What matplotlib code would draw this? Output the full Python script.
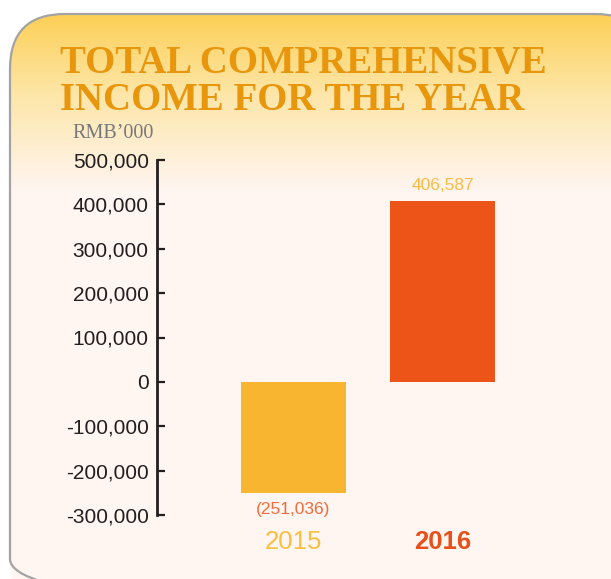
import numpy as np
import matplotlib
matplotlib.use("Agg")
from matplotlib import pyplot as plt
from matplotlib.patches import FancyBboxPatch
from matplotlib.colors import LinearSegmentedColormap

# data
years = ["2015", "2016"]
values = [-251036, 406587]
value_labels = ["(251,036)", "406,587"]
yticks = [-300000, -200000, -100000, 0, 100000, 200000, 300000, 400000, 500000]
ytick_labels = ["-300,000", "-200,000", "-100,000", "0", "100,000",
                "200,000", "300,000", "400,000", "500,000"]

W, H = 611, 579
fig = plt.figure(figsize=(W / 100, H / 100), dpi=100)
fig.patch.set_facecolor("white")

# background panel (pixel coords)
bg = fig.add_axes([0, 0, 1, 1])
bg.set_xlim(0, W)
bg.set_ylim(H, 0)
bg.axis("off")
cmap = LinearSegmentedColormap.from_list(
    "grad", [(0, "#fccf55"), (0.45, "#fde6a8"), (1.0, "#fff5f1")])
grad = np.linspace(0, 1, 200).reshape(-1, 1)
box = FancyBboxPatch((10, 14), 640, 600, boxstyle="round,pad=0,rounding_size=55",
                     facecolor="none", edgecolor="#a3a3a3", linewidth=1.6, zorder=3)
bg.add_patch(box)
im = bg.imshow(grad, cmap=cmap, extent=(0, W, 192, 14), aspect="auto", zorder=1)
im.set_clip_path(box)
lower = FancyBboxPatch((10, 14), 640, 600, boxstyle="round,pad=0,rounding_size=55",
                       facecolor="#fff5f1", edgecolor="none", zorder=0.5)
bg.add_patch(lower)

bg.text(60, 73, "TOTAL COMPREHENSIVE", family="Liberation Serif", weight="bold",
        fontsize=28, color="#e8960c", va="baseline", ha="left")
bg.text(60, 110, "INCOME FOR THE YEAR", family="Liberation Serif", weight="bold",
        fontsize=28, color="#e8960c", va="baseline", ha="left")
bg.text(72, 138, "RMB\u2019000", family="Liberation Serif", fontsize=14.5,
        color="#77787b", va="baseline", ha="left")

# chart axes
ax_left, ax_right = 157, 611
ax_top, ax_bot = 160, 515
ax = fig.add_axes([ax_left / W, (H - ax_bot) / H, (ax_right - ax_left) / W,
                   (ax_bot - ax_top) / H])
ax.patch.set_alpha(0)
x = np.arange(len(years))
ax.set_xlim(-0.916, 2.13)
ax.set_ylim(-300000, 500000)
colors = ["#f8b630", "#ec5517"]
ax.bar(x, values, width=0.705, color=colors, zorder=2)

for s in ["top", "right", "bottom"]:
    ax.spines[s].set_visible(False)
ax.spines["left"].set_linewidth(2.0)
ax.spines["left"].set_color("#231f20")
ax.set_xticks([])
ax.set_yticks(yticks)
ax.set_yticklabels(ytick_labels, family="Liberation Sans", fontsize=15, color="#231f20")
ax.tick_params(axis="y", direction="in", length=6, width=1.6, color="#231f20", pad=6)

label_colors = ["#f06a3c", "#fbbb45"]
for xi, v, lab, c in zip(x, values, value_labels, label_colors):
    off = -16 if v < 0 else 16
    ax.annotate(lab, (xi, v), xytext=(0, off), textcoords="offset pixels",
                ha="center", va="center", fontsize=12.5, color=c,
                family="Liberation Sans")

year_colors = ["#fbbf3e", "#e8501b"]
year_weights = ["normal", "bold"]
for xi, yr, c, w in zip(x, years, year_colors, year_weights):
    ax.annotate(yr, (xi, 0), xycoords=("data", "axes fraction"), xytext=(0, -27),
                textcoords="offset pixels", ha="center", va="center",
                fontsize=18.5, color=c, weight=w, family="Liberation Sans")

fig.savefig("out.png", dpi=100)
